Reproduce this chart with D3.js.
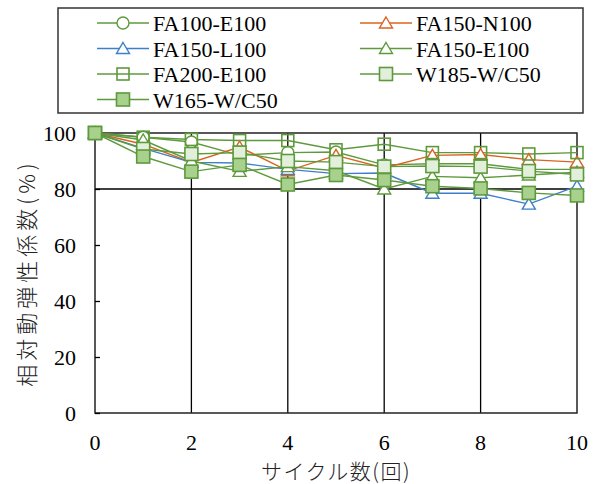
<!DOCTYPE html>
<html>
<head>
<meta charset="utf-8">
<script src="https://cdn.jsdelivr.net/npm/d3@7/dist/d3.min.js"></script>
<style>
  body { margin: 0; background: #fff; }
  text { font-family: "Liberation Serif", "Times New Roman", serif; fill: #000; }
  .jp { font-family: "Noto Sans CJK JP", sans-serif; font-weight: 300; fill: #222; }
</style>
</head>
<body>
<div id="chart"></div>
<script>
// cycles (x) and relative dynamic modulus (%)
const cycles = [0, 1, 2, 3, 4, 5, 6, 7, 8, 9, 10];
const seriesNames = ["FA100-E100", "FA150-N100", "FA150-L100", "FA150-E100", "FA200-E100", "W185-W/C50", "W165-W/C50"];
const fa100e100 = [100, 98.5, 96.8, 92.0, 93.0, 93.2, 88.6, 89.0, 89.0, 87.0, 87.0];
const fa150n100 = [100, 96.0, 89.5, 95.0, 86.5, 92.0, 87.5, 92.0, 92.3, 90.5, 89.6];
const fa150l100 = [100, 94.5, 89.5, 89.3, 87.0, 85.5, 85.7, 78.5, 78.5, 74.6, 81.0];
const fa150e100 = [100, 97.5, 90.0, 86.3, 88.0, 86.5, 80.0, 84.5, 84.0, 85.0, 86.0];
const fa200e100 = [100, 98.5, 97.7, 97.3, 97.3, 94.0, 96.0, 93.0, 93.0, 92.5, 93.0];
const w185 = [100, 94.3, 92.5, 93.0, 90.0, 89.6, 88.0, 88.2, 88.0, 86.4, 85.2];
const w165 = [100, 91.6, 86.2, 88.6, 81.6, 85.0, 83.2, 81.0, 80.2, 78.6, 77.7];
const xTicks = [0, 2, 4, 6, 8, 10];
const yTicks = [0, 20, 40, 60, 80, 100];

const green = "#5E9A3C", orange = "#D8641F", blue = "#3D7FC9";
const series = [
  { name: seriesNames[0], values: fa100e100, color: green, marker: "circle", fill: "#fff" },
  { name: seriesNames[1], values: fa150n100, color: orange, marker: "triangle", fill: "#fff" },
  { name: seriesNames[2], values: fa150l100, color: blue, marker: "triangle", fill: "#fff" },
  { name: seriesNames[3], values: fa150e100, color: green, marker: "triangle", fill: "#fff" },
  { name: seriesNames[4], values: fa200e100, color: green, marker: "square", fill: "none", size: 12 },
  { name: seriesNames[5], values: w185, color: green, marker: "square", fill: "#E2EFDA", size: 13 },
  { name: seriesNames[6], values: w165, color: green, marker: "square", fill: "#A9D18E", size: 13 }
];

const W = 593, H = 484;
const svg = d3.select("#chart").append("svg").attr("width", W).attr("height", H);

const x = d3.scaleLinear().domain([0, 10]).range([95, 577]);
const y = d3.scaleLinear().domain([0, 100]).range([413, 133]);

// grid: vertical at 2..8, horizontal at 80 only
svg.append("g").selectAll("line").data([2, 4, 6, 8]).join("line")
  .attr("x1", d => x(d)).attr("x2", d => x(d))
  .attr("y1", y(0)).attr("y2", y(100))
  .attr("stroke", "#000").attr("stroke-width", 1.3);
svg.append("line")
  .attr("x1", x(0)).attr("x2", x(10)).attr("y1", y(80)).attr("y2", y(80))
  .attr("stroke", "#000").attr("stroke-width", 1.3);

// plot frame
svg.append("rect")
  .attr("x", x(0)).attr("y", y(100))
  .attr("width", x(10) - x(0)).attr("height", y(0) - y(100))
  .attr("fill", "none").attr("stroke", "#222").attr("stroke-width", 1.5);

// y axis (ticks inside)
const yAxis = svg.append("g").attr("transform", `translate(${x(0)},0)`)
  .call(d3.axisRight(y).tickValues(yTicks).tickSize(5).tickFormat(""));
yAxis.select(".domain").remove();
yAxis.selectAll("line").attr("stroke", "#000").attr("stroke-width", 1.3);

svg.append("g").selectAll("text").data(yTicks).join("text")
  .attr("x", 76).attr("y", d => y(d) + 8)
  .attr("text-anchor", "end").attr("font-size", 22)
  .text(d => d);

svg.append("g").selectAll("text").data(xTicks).join("text")
  .attr("x", d => x(d)).attr("y", 450)
  .attr("text-anchor", "middle").attr("font-size", 22)
  .text(d => d);

// axis titles
svg.append("text").attr("class", "jp")
  .attr("x", (x(0) + x(10)) / 2).attr("y", 479)
  .attr("text-anchor", "middle").attr("font-size", 21)
  .attr("letter-spacing", "1.5px")
  .text("サイクル数(回)");
svg.append("text").attr("class", "jp")
  .attr("transform", `translate(35,${(y(0) + y(100)) / 2}) rotate(-90)`)
  .attr("text-anchor", "middle").attr("font-size", 22)
  .attr("letter-spacing", "4px")
  .text("相対動弾性係数(%)");

function drawMarker(g, s, cx, cy) {
  if (s.marker === "circle") {
    g.append("circle").attr("cx", cx).attr("cy", cy).attr("r", 6)
      .attr("fill", s.fill).attr("stroke", s.color).attr("stroke-width", 1.4);
  } else if (s.marker === "triangle") {
    g.append("path")
      .attr("d", `M${cx},${cy - 6}L${cx + 6.5},${cy + 5}L${cx - 6.5},${cy + 5}Z`)
      .attr("fill", s.fill).attr("stroke", s.color).attr("stroke-width", 1.4);
  } else {
    const h = s.size / 2;
    g.append("rect").attr("x", cx - h).attr("y", cy - h)
      .attr("width", s.size).attr("height", s.size)
      .attr("fill", s.fill).attr("stroke", s.color).attr("stroke-width", 1.6);
  }
}

// lines
const line = d3.line().x((d, i) => x(cycles[i])).y(d => y(d));
svg.append("g").selectAll("path").data(series).join("path")
  .attr("d", s => line(s.values))
  .attr("fill", "none").attr("stroke", s => s.color).attr("stroke-width", 1.4);

// markers
const mg = svg.append("g");
series.forEach(s => {
  s.values.forEach((v, i) => drawMarker(mg, s, x(cycles[i]), y(v)));
});

// legend
svg.append("rect").attr("x", 58).attr("y", 8).attr("width", 525).attr("height", 105)
  .attr("fill", "#fff").attr("stroke", "#333").attr("stroke-width", 1.5);
const lg = svg.append("g");
series.forEach((s, i) => {
  const col = i % 2, row = Math.floor(i / 2);
  const lx = col === 0 ? 97 : 360;
  const ly = 23 + row * 25.5;
  lg.append("line").attr("x1", lx).attr("x2", lx + 52).attr("y1", ly).attr("y2", ly)
    .attr("stroke", s.color).attr("stroke-width", 1.4);
  drawMarker(lg, s, lx + 26, ly);
  lg.append("text").attr("x", lx + 56).attr("y", ly + 8).attr("font-size", 22).text(s.name);
});
</script>
</body>
</html>
